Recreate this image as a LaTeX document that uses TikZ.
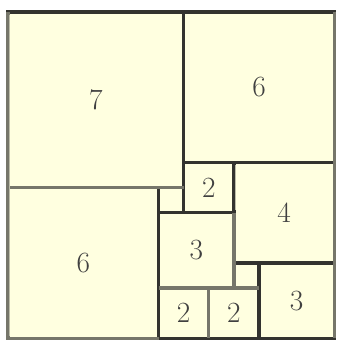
\documentclass[tikz,border=0pt]{standalone}
\definecolor{tilefill}{HTML}{FFFFE0}
\definecolor{edgedark}{HTML}{33332F}
\definecolor{edgegray}{HTML}{76766A}
\definecolor{edgelight}{HTML}{BDBDA8}

\begin{document}
\begin{tikzpicture}[
  x=18.825pt, y=-18.825pt,
  tile/.style={draw=edgedark, line width=2.4pt, fill=tilefill},
  soft/.style={draw=edgegray, line width=2.4pt},
  num/.style={font=\fontsize{22}{22}\selectfont, text=black!75}
]
  \useasboundingbox (-0.319, -0.478) rectangle (13.108, 13.068);

  % the eleven squares
  \draw[tile] (0, 0) rectangle (7, 7);
  \draw[tile] (7, 0) rectangle (13, 6);
  \draw[tile] (0, 7) rectangle (6, 13);
  \draw[tile] (7, 6) rectangle (9, 8);
  \draw[tile] (9, 6) rectangle (13, 10);
  \draw[tile] (6, 7) rectangle (7, 8);
  \draw[tile] (6, 8) rectangle (9, 11);
  \draw[tile] (9, 10) rectangle (10, 11);
  \draw[tile] (10, 10) rectangle (13, 13);
  \draw[tile] (6, 11) rectangle (8, 13);
  \draw[tile] (8, 11) rectangle (10, 13);

  % lighter edges
  \draw[soft] (0, 0) -- (0, 13) -- (6, 13);
  \draw[soft] (13, 0) -- (13, 13);
  \draw[soft] (0, 7) -- (7, 7);
  \draw[soft] (6, 11) -- (10, 11);
  \draw[soft] (8, 11) -- (8, 13);
  \draw[soft] (9, 8) -- (9, 11);
  \draw[edgelight, line width=0.75pt] (0.05, 0.1) -- (0.05, 12.9);
  \draw[edgelight, line width=0.75pt] (9.05, 6.1) -- (9.05, 7.9);

  \node[num] (n7) at (3.5, 3.5) {7};
  \node[num] (n6a) at (10, 3) {6};
  \node[num] (n6b) at (3, 10) {6};
  \node[num] (n2a) at (8, 7) {2};
  \node[num] (n4) at (11, 8) {4};
  \node[num] (n3a) at (7.5, 9.5) {3};
  \node[num] (n3b) at (11.5, 11.5) {3};
  \node[num] (n2b) at (7, 12) {2};
  \node[num] (n2c) at (9, 12) {2};

\end{tikzpicture}
\end{document}
